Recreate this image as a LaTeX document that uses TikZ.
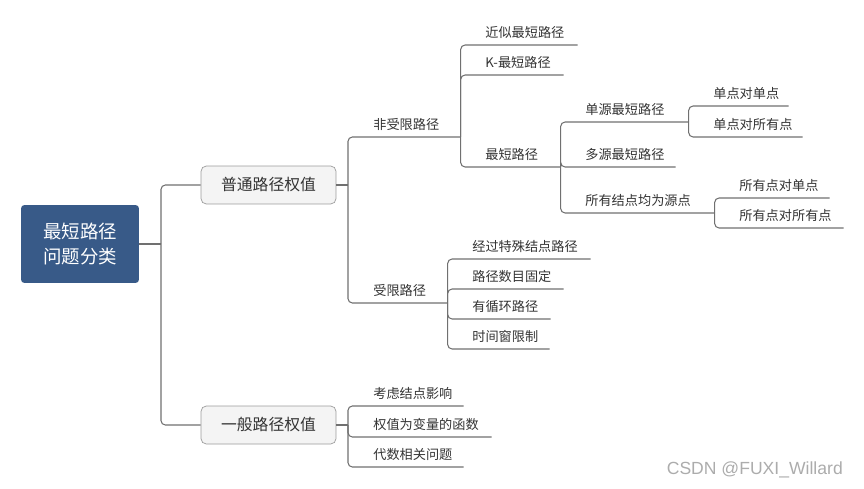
\documentclass[tikz,border=0pt]{standalone}
\usepackage{fontspec}
\setmainfont{Noto Sans CJK SC}
\newfontfamily\wmfont{Liberation Sans}
\definecolor{rootblue}{RGB}{56,90,136}
\definecolor{boxgray}{RGB}{244,244,244}
\definecolor{linegray}{RGB}{112,112,112}
\definecolor{textgray}{RGB}{51,51,51}

\begin{document}
\begin{tikzpicture}[x=0.02cm, y=-0.02cm,
    root/.style={fill=rootblue, rounded corners=2pt, minimum width=2.36cm, minimum height=1.56cm,
        align=center, text=white, font=\fontsize{10.5}{14.7}\selectfont},
    topic/.style={draw=linegray!70, fill=boxgray, rounded corners=3pt, minimum width=2.7cm,
        minimum height=0.76cm, text=textgray, font=\fontsize{9}{11}\selectfont},
    leaf/.style={anchor=south west, inner xsep=0pt, inner ysep=3.2pt, text width=#1, align=left,
        text=textgray, font=\fontsize{7.5}{9}\selectfont},
    link/.style={draw=linegray, line width=0.6pt, rounded corners=2.5pt}]
    \useasboundingbox (0,0) rectangle (864,489);
    % 中心主题
    \node[root] (root) at (80,244) {最短路径\\问题分类};
    \node[topic] (ptlj) at (268.5,185) {普通路径权值};
    \node[topic] (yblj) at (268.5,425) {一般路径权值};
    \coordinate (s0) at (161,244);
    \draw[link] (root.east) -- (s0);
    \draw[link] (s0) |- (ptlj.west);
    \draw[link] (s0) |- (yblj.west);
    % 普通路径权值
    \node[leaf=1.74cm] (fsx) at (373,137) {非受限路径};
    \node[leaf=1.48cm] (sx) at (373,303) {受限路径};
    \node[leaf=1.84cm] (jszd) at (485,45) {近似最短路径};
    \node[leaf=1.56cm] (kzd) at (485,75) {K-最短路径};
    \node[leaf=1.50cm] (zdlj) at (485,167) {最短路径};
    \node[leaf=2.06cm] (dyzd) at (585,122) {单源最短路径};
    \node[leaf=1.80cm] (dszd) at (585,167) {多源最短路径};
    \node[leaf=2.58cm] (syyd) at (585,213) {所有结点均为源点};
    \node[leaf=1.50cm] (ddd) at (713,106) {单点对单点};
    \node[leaf=1.78cm] (dds) at (713,137) {单点对所有点};
    \node[leaf=1.80cm] (sdd) at (739,198) {所有点对单点};
    \node[leaf=2.08cm] (sds) at (739,228) {所有点对所有点};
    \node[leaf=2.36cm] (jgts) at (472,259) {经过特殊结点路径};
    \node[leaf=1.82cm] (sugd) at (472,289) {路径数目固定};
    \node[leaf=1.56cm] (xhlj) at (472,319) {有循环路径};
    \node[leaf=1.54cm] (sjc) at (472,349) {时间窗限制};
    \coordinate (s1) at (348,185);
    \draw[link] (ptlj.east) -- (s1);
    \foreach \c in {fsx,sx} \draw[link] (s1) |- (\c.south east);
    \foreach \c in {jszd,kzd,zdlj} \draw[link] (fsx.south east) |- (\c.south east);
    \foreach \c in {dyzd,dszd,syyd} \draw[link] (zdlj.south east) |- (\c.south east);
    \foreach \c in {ddd,dds} \draw[link] (dyzd.south east) |- (\c.south east);
    \foreach \c in {sdd,sds} \draw[link] (syyd.south east) |- (\c.south east);
    \foreach \c in {jgts,sugd,xhlj,sjc} \draw[link] (sx.south east) |- (\c.south east);
    % 一般路径权值
    \node[leaf=1.80cm] (kljd) at (373,406) {考虑结点影响};
    \node[leaf=2.36cm] (qzbl) at (373,437) {权值为变量的函数};
    \node[leaf=1.80cm] (dsxg) at (373,467) {代数相关问题};
    \coordinate (s2) at (348,425);
    \draw[link] (yblj.east) -- (s2);
    \foreach \c in {kljd,qzbl,dsxg} \draw[link] (s2) |- (\c.south east);
    % 水印
    \node[anchor=east, text=gray!65, font=\wmfont\fontsize{10}{12}\selectfont] (wm) at (849,470) {CSDN @FUXI\_Willard};
\end{tikzpicture}
\end{document}
